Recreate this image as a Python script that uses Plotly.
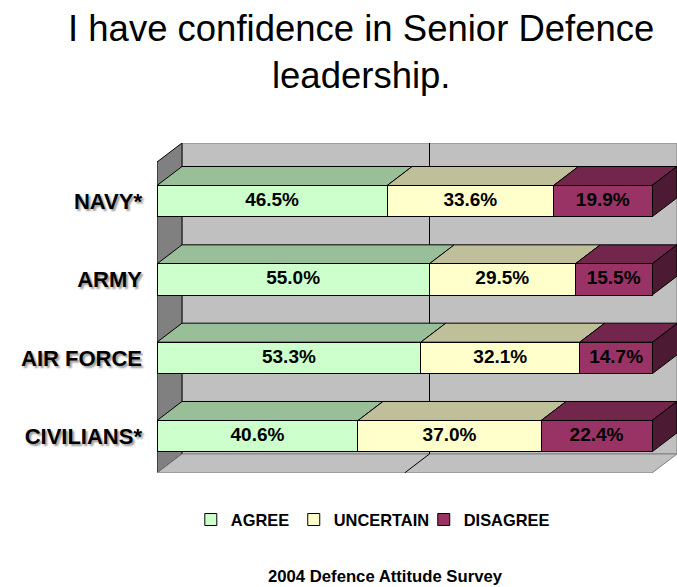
import plotly.graph_objects as go

# Survey results (percent of respondents)
categories = ["NAVY*", "ARMY", "AIR FORCE", "CIVILIANS*"]
agree = [46.5, 55.0, 53.3, 40.6]
uncertain = [33.6, 29.5, 32.1, 37.0]
disagree = [19.9, 15.5, 14.7, 22.4]
series_names = ["AGREE", "UNCERTAIN", "DISAGREE"]

# face colours: front, top, side
front_colors = ["#CCFFCC", "#FFFFCC", "#993366"]
top_colors = ["#99BF99", "#BFBF99", "#73264C"]
side_colors = ["#66806A", "#80806A", "#4D1A33"]

# pseudo-3D geometry (axis units)
DX = 5.05      # depth along value axis (%)
DY = 0.243     # depth along category axis
HALF = 0.2     # half bar thickness
FLOOR = -0.47
TOP = 3.5

SANS = "Liberation Sans, Arial, sans-serif"

# one legend box per series, left edges in paper units
legend_x = [0.065, 0.263, 0.513]
legend_ids = ["legend", "legend2", "legend3"]

n = len(categories)
ypos = [n - 1 - i for i in range(n)]
series = [agree, uncertain, disagree]

fig = go.Figure()
shapes = []


def poly(pts, fill, line="#000000", width=1):
    path = "M " + " L ".join(f"{x},{y}" for x, y in pts) + " Z"
    return dict(type="path", path=path, xref="x", yref="y", fillcolor=fill,
                line=dict(color=line, width=width), layer="below")


# back wall
shapes.append(poly([(DX, FLOOR + DY), (100 + DX, FLOOR + DY),
                    (100 + DX, TOP + DY), (DX, TOP + DY)], "#C0C0C0", "#808080"))
# left wall
shapes.append(poly([(0, FLOOR), (0, TOP), (DX, TOP + DY), (DX, FLOOR + DY)],
                   "#808080", "#000000"))
# floor
shapes.append(poly([(0, FLOOR), (100, FLOOR), (100 + DX, FLOOR + DY),
                    (DX, FLOOR + DY)], "#C0C0C0", "#808080"))
# 50% gridline on the back wall and the floor
shapes.append(dict(type="line", xref="x", yref="y", x0=50 + DX, x1=50 + DX,
                   y0=FLOOR + DY, y1=TOP + DY, line=dict(color="#000000", width=1),
                   layer="below"))
shapes.append(dict(type="line", xref="x", yref="y", x0=50, x1=50 + DX,
                   y0=FLOOR, y1=FLOOR + DY, line=dict(color="#000000", width=1),
                   layer="below"))

# top and side faces of each stacked segment, plus label positions
label_x, label_y, label_text = [], [], []
for row, y in enumerate(ypos):
    start = 0.0
    for s, vals in enumerate(series):
        end = start + vals[row]
        top = y + HALF
        shapes.append(poly([(start, top), (end, top), (end + DX, top + DY),
                            (start + DX, top + DY)], top_colors[s]))
        label_x.append((start + end) / 2)
        label_y.append(y)
        label_text.append(f"{vals[row]:.1f}%")
        start = end
    bot = y - HALF
    shapes.append(poly([(start, bot), (start, y + HALF),
                        (start + DX, y + HALF + DY), (start + DX, bot + DY)],
                       side_colors[-1]))

# front faces
for s, vals in enumerate(series):
    fig.add_trace(go.Bar(
        x=vals, y=ypos, orientation="h", width=2 * HALF, name=series_names[s],
        marker=dict(color=front_colors[s], line=dict(color="#000000", width=1)),
        legend=legend_ids[s], hoverinfo="skip",
    ))

# value labels centred on each segment
fig.add_trace(go.Scatter(
    x=label_x, y=label_y, text=label_text, mode="text", showlegend=False,
    textposition="middle center", hoverinfo="skip",
    textfont=dict(family=SANS, size=19, color="#000000", weight="bold"),
))

legend_style = dict(orientation="h", xanchor="left", y=-0.142, yanchor="middle",
                    font=dict(family=SANS, size=16.4, color="#000000", weight="bold"),
                    bgcolor="rgba(0,0,0,0)")

fig.update_layout(
    width=677, height=587,
    barmode="stack",
    paper_bgcolor="white", plot_bgcolor="white",
    margin=dict(l=157, r=0, t=143, b=114, autoexpand=False),
    shapes=shapes,
    xaxis=dict(range=[0, 100 + DX], showgrid=False, zeroline=False,
               showticklabels=False, showline=False, fixedrange=True),
    yaxis=dict(range=[FLOOR, TOP + DY], showgrid=False, zeroline=False,
               showline=False, tickvals=ypos, ticktext=categories,
               ticklabelstandoff=14, automargin=False,
               tickfont=dict(family=SANS, size=22, color="#000000", weight="bold",
                             shadow="2px 2px 2px #9a9a9a")),
    legend=dict(x=legend_x[0], **legend_style),
    legend2=dict(x=legend_x[1], **legend_style),
    legend3=dict(x=legend_x[2], **legend_style),
    annotations=[
        dict(text="I have confidence in Senior Defence<br>leadership.",
             xref="paper", yref="paper", x=0.392, y=1.277,
             xanchor="center", yanchor="middle", showarrow=False,
             font=dict(family=SANS, size=36.5, color="#000000")),
        dict(text="2004 Defence Attitude Survey", xref="paper", yref="paper",
             x=(385.5 - 157) / 520, y=-(576.7 - 473) / 330,
             xanchor="center", yanchor="middle", showarrow=False,
             font=dict(family=SANS, size=16.7, color="#000000", weight="bold")),
    ],
)

fig.write_html("out.html")
